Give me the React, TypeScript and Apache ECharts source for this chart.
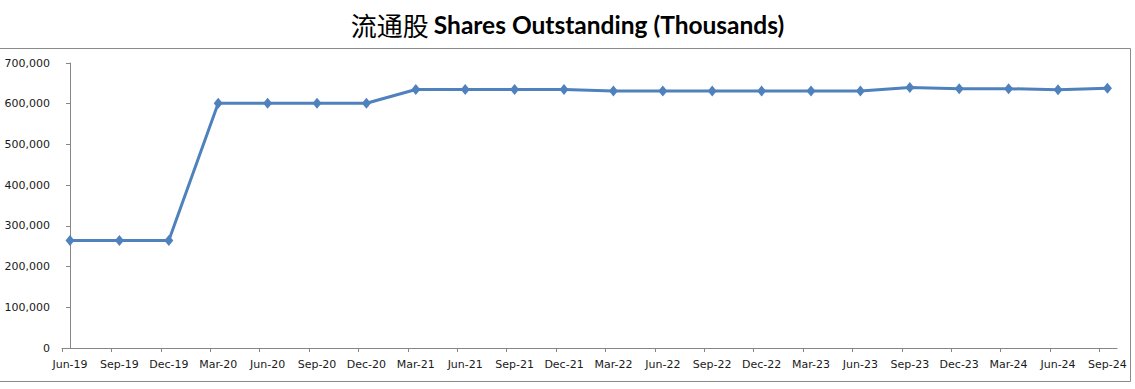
import React, { useEffect, useRef } from "react";
import * as echarts from "echarts";

const categories = [
  "Jun-19", "Sep-19", "Dec-19", "Mar-20", "Jun-20", "Sep-20", "Dec-20",
  "Mar-21", "Jun-21", "Sep-21", "Dec-21", "Mar-22", "Jun-22", "Sep-22",
  "Dec-22", "Mar-23", "Jun-23", "Sep-23", "Dec-23", "Mar-24", "Jun-24", "Sep-24",
];

const sharesOutstanding = [
  264000, 264000, 264000, 601000, 601000, 601000, 601000,
  635000, 635000, 635000, 635000, 631000, 631000, 631000,
  631000, 631000, 631000, 640000, 637000, 637000, 634000, 638000,
];

const yTicks = [0, 100000, 200000, 300000, 400000, 500000, 600000, 700000];

export default function App() {
  const ref = useRef<HTMLDivElement>(null);

  useEffect(() => {
    document.body.style.margin = "0";
    const chart = echarts.init(ref.current!, null, { renderer: "svg" });
    const n = categories.length;
    const tickShift = -0.162; // Excel-style tick offset (in category units)
    const xMin = tickShift;
    const xMax = tickShift + 21.356;
    const tickValues = categories.map((_, i) => tickShift + i);
    const labelValues = categories.map((_, i) => i);

    chart.setOption({
      animation: false,
      backgroundColor: "#ffffff",
      title: {
        text: "{a|流通股} {b|Shares Outstanding (Thousands)}",
        left: "center",
        top: 6,
        textStyle: {
          rich: {
            a: {
              fontFamily: "Noto Sans CJK SC",
              fontSize: 26,
              fontWeight: "normal",
              color: "#000000",
            },
            b: {
              fontFamily: "Lato",
              fontSize: 24.5,
              fontWeight: "bold",
              color: "#000000",
            },
          },
        },
      },
      graphic: [
        {
          type: "rect",
          shape: { x: -1, y: 48.5, width: 1131.5, height: 333 },
          style: { fill: "none", stroke: "#8a8a8a", lineWidth: 1 },
          silent: true,
        },
      ],
      grid: { left: 62, right: 18, top: 63, bottom: 41, containLabel: false },
      xAxis: {
        type: "value",
        min: xMin,
        max: xMax,
        axisLine: { show: true, lineStyle: { color: "#868686", width: 1 } },
        axisTick: {
          show: true,
          length: 4,
          inside: false,
          customValues: tickValues,
          lineStyle: { color: "#868686" },
        },
        axisLabel: {
          customValues: labelValues,
          formatter: (v: number) => categories[Math.round(v)] ?? "",
          fontFamily: "DejaVu Sans",
          fontSize: 11,
          color: "#1a1a1a",
          margin: 11,
        },
        splitLine: { show: false },
      },
      yAxis: {
        type: "value",
        min: yTicks[0],
        max: yTicks[yTicks.length - 1],
        interval: 100000,
        axisLine: { show: true, lineStyle: { color: "#868686", width: 1 } },
        axisTick: { show: true, length: 4, lineStyle: { color: "#868686" } },
        axisLabel: {
          formatter: (v: number) => v.toLocaleString("en-US"),
          fontFamily: "DejaVu Sans",
          fontSize: 11,
          color: "#1a1a1a",
          margin: 12,
        },
        splitLine: { show: false },
      },
      series: [
        {
          type: "line",
          data: sharesOutstanding.slice(0, n).map((v, i) => [i, v]),
          lineStyle: { color: "#4F81BD", width: 3 },
          itemStyle: { color: "#4F81BD" },
          symbol: "diamond",
          symbolSize: [9, 11],
          showSymbol: true,
        },
      ],
    });
    return () => chart.dispose();
  }, []);

  return (
    <div
      ref={ref}
      style={{ position: "absolute", left: 0, top: 0, width: 1135, height: 389 }}
    />
  );
}
